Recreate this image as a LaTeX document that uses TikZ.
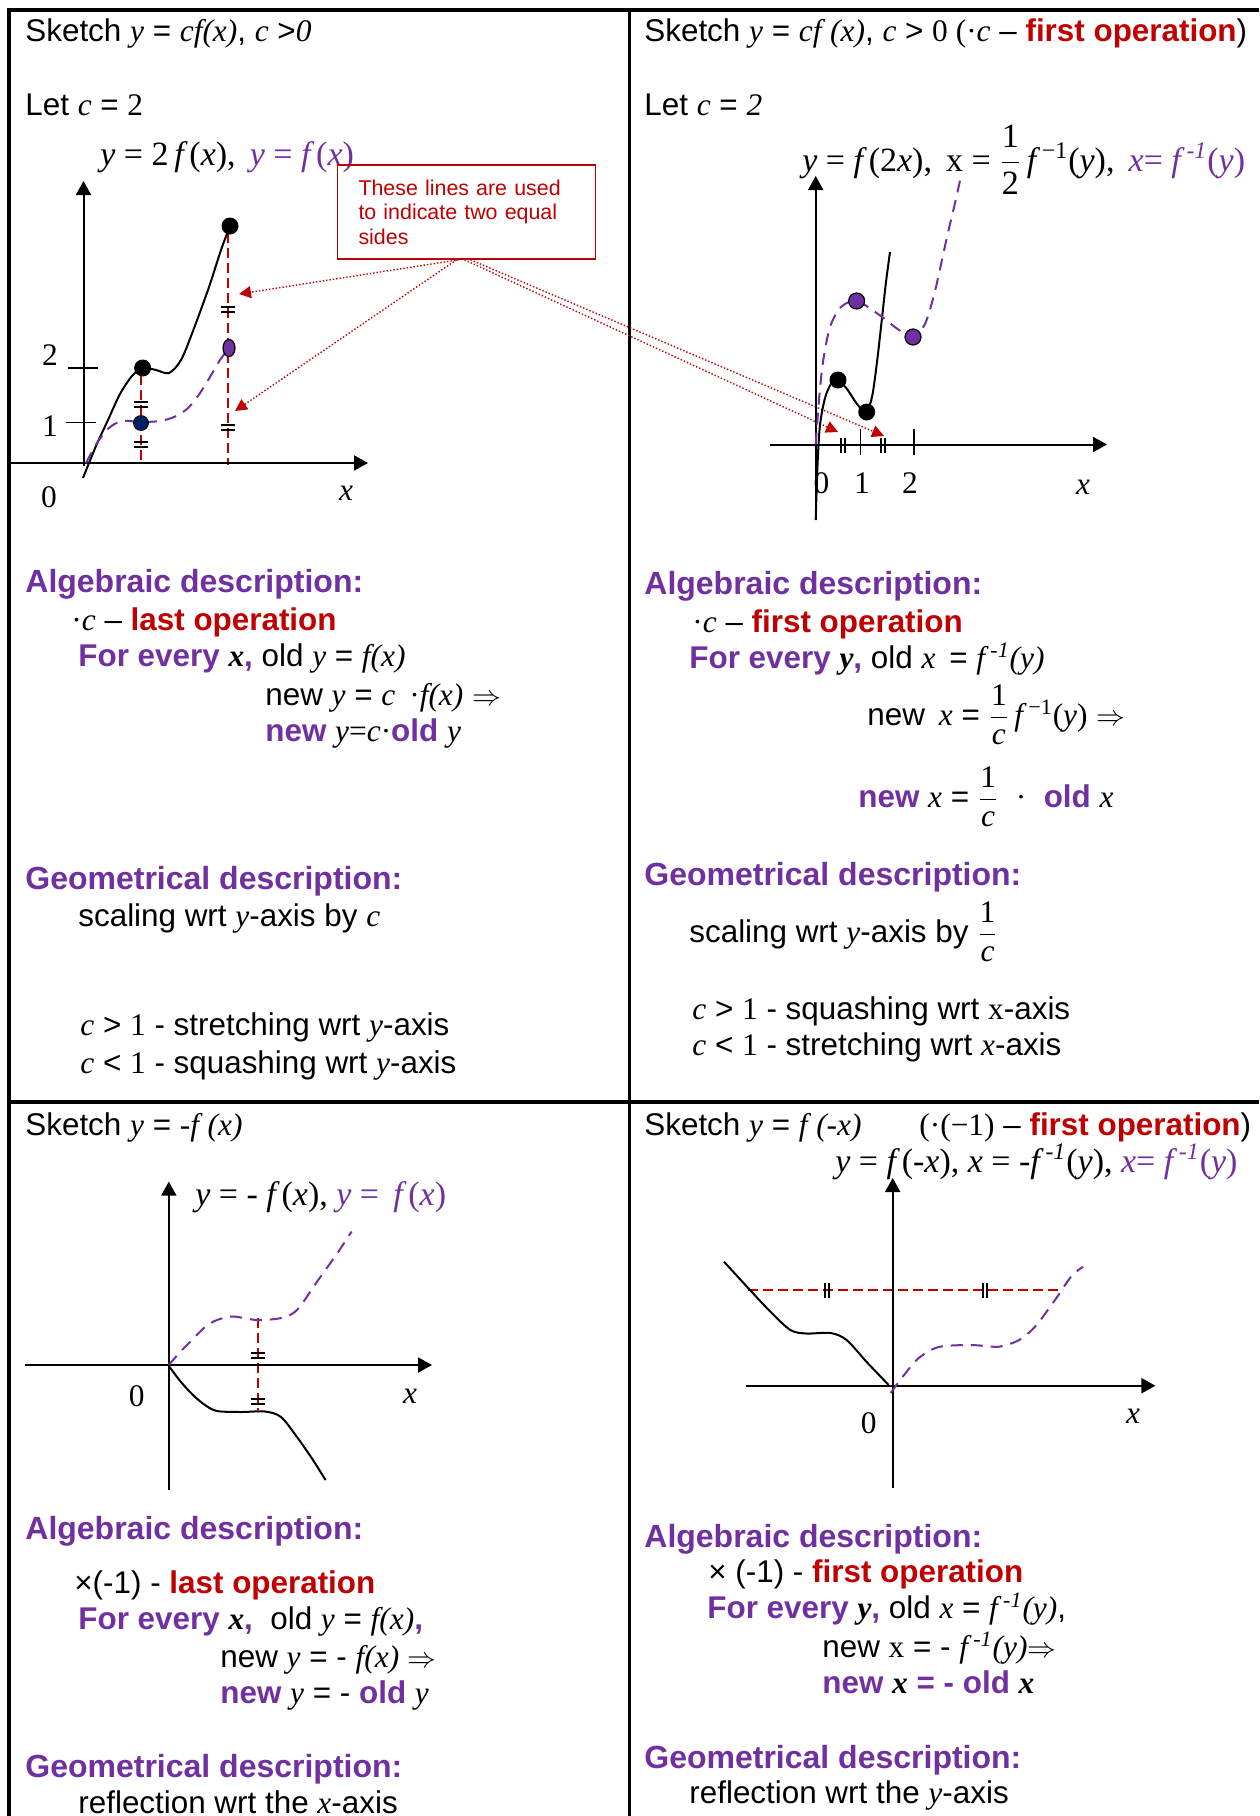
\documentclass[tikz,border=0pt]{standalone}
\usepackage{fontspec}
\setmainfont{Liberation Sans}
\newfontfamily\tm{Liberation Serif}
\usetikzlibrary{arrows.meta,shapes.geometric}
\definecolor{pur}{HTML}{7030A0}\definecolor{dred}{HTML}{C00000}\definecolor{nav}{HTML}{002060}
\newcommand\iv[1]{{\tm\itshape #1}}
\newcommand\rv[1]{{\tm #1}}
\newcommand\pb[1]{\textcolor{pur}{\bfseries #1}}
\newcommand\rb[1]{\textcolor{dred}{\bfseries #1}}
\newcommand\fr[2]{\ensuremath{\displaystyle\frac{\hbox{#1}}{\hbox{#2}}}}
\newcommand\inv{\,\textsuperscript{\iv{-1}}}
\tikzset{tx/.style={anchor=base west,inner sep=0pt,font=\fontsize{15.7}{18}\selectfont},
 gl/.style={tx,font=\fontsize{17}{20}\selectfont\tm},
 hd/.style={tx,font=\fontsize{16}{19}\selectfont\bfseries,text=pur},
 lb/.style={inner sep=0pt,font=\fontsize{15.7}{18}\selectfont\tm},
 ca/.style={draw=dred,line width=0.8pt,text=dred,font=\fontsize{10.7}{12.3}\selectfont,align=left,text width=108pt,inner xsep=10.5pt,minimum height=47pt},
 dt/.style={circle,fill=black,inner sep=0pt,minimum size=8.5pt},
 pdt/.style={dt,draw=black,fill=pur,minimum size=8pt,line width=0.6pt},
 pe/.style={ellipse,draw=black,fill=pur,inner sep=0pt,minimum width=6pt,minimum height=8.5pt,line width=0.6pt},
 cv/.style={line width=1pt},pd/.style={pur,line width=1pt,dash pattern=on 6pt off 4pt},
 rd/.style={dred,line width=1pt,dash pattern=on 5pt off 2.5pt},
 ax/.style={line width=1pt,-{Triangle[length=7pt,width=7.5pt]}},tk/.style={line width=0.8pt},
 ar/.style={dred,line width=0.7pt,densely dotted,-{Triangle[length=6pt,width=6pt]}},
 eqm/.pic={\draw[line width=1pt] (-7,-2.5)--(7,-2.5) (-7,2.5)--(7,2.5);},
 eqv/.pic={\draw[line width=1pt] (-2,-7.5)--(-2,7.5) (2,-7.5)--(2,7.5);}}
\begin{document}
\begin{tikzpicture}[x=0.5pt,y=-0.5pt]
\useasboundingbox (0,0) rectangle (1259,1816);\fill[white] (0,0) rectangle (1259,1816);
\draw[line width=2pt] (9,1816)--(9,10)--(1259,10);\draw[line width=1.5pt] (629,10)--(629,1816);\draw[line width=2pt] (9,1102)--(1259,1102);
\node[tx](tlT) at (25,41){Sketch \iv{y} = \iv{cf}\iv{(x)}, \iv{c} >\iv{0}};
\node[tx](tlL) at (25,115){Let \iv{c} = \rv{2}};
\node[gl](tlG) at (100,165){\iv{y} = 2\,\iv{f}\,(\iv{x}),\, \textcolor{pur}{\iv{y} = \iv{f}\,(\iv{x})}};
\node[ca](note) at (466.5,212){These lines are used\\to indicate two equal\\sides};
\draw[rd] (140.6,375)--(140.6,463);\draw[rd] (228,233)--(228,465);
\draw[ax] (10,463)--(368,463);\draw[ax] (83.5,466)--(83.5,181);
\draw[tk] (68,368)--(98,368) (66,422.5)--(96,422.5);
\node[lb](l2) at (50,355){2};\node[lb](l1) at (50,426){1};\node[lb](l0) at (49,497){0};\node[lb](lx) at (346,493){\itshape x};
\draw[cv] plot[smooth] coordinates {(83,478) (96,446) (108,420) (120,394) (132,376) (143,368) (156,370) (169,373) (181,360) (193,331) (209,287) (221,250) (230,226)};
\draw[pd] plot[smooth] coordinates {(86,463) (97,443) (109,428) (122,421) (141,422) (160,421) (174,417) (187,409) (198,396) (210,377) (220,360) (229,348)};
\node[dt](a1) at (142.6,368){};\node[dt](a2) at (230,226){};\node[dt,fill=nav,draw=black,minimum size=7.5pt](a3) at (141,423){};\node[pe](a4) at (229,348){};
\pic at (140.6,404){eqm};\pic at (140.6,444.5){eqm};\pic at (228,309){eqm};\pic at (228,427.6){eqm};
\coordinate (e1) at (239,294);\coordinate (e2) at (235,411);\coordinate (e3) at (838,432);\coordinate (e4) at (884,436);
\draw[ar] ([xshift=-4pt]note.south)--(e1);\draw[ar] ([xshift=-5pt]note.south)--(e2);\draw[ar] ([xshift=-1pt]note.south)--(e3);\draw[ar] ([xshift=2pt]note.south)--(e4);
\node[hd](tlA) at (25,592){Algebraic description:};
\node[tx](tl1) at (71,630){\rv{·}\iv{c} – \rb{last operation}};
\node[tx](tl2) at (78,666){\pb{For every} \iv{\bfseries x}\pb{,} old \iv{y} = \iv{f(x)}};
\node[tx](tl3) at (265,705){new \iv{y} = \iv{c} \,\rv{·}\iv{f(x)} $\Rightarrow$};
\node[tx](tl4) at (265,741){\pb{new} \iv{y}\rv{=}\iv{c}\rv{·}\pb{old} \iv{y}};
\node[hd](tlB) at (25,889){Geometrical description:};
\node[tx](tl5) at (78,926){scaling wrt \iv{y}-axis by \iv{c}};
\node[tx](tl6) at (80,1035){\iv{c} > \rv{1} - stretching wrt \iv{y}-axis};
\node[tx](tl7) at (80,1073){\iv{c} < \rv{1} - squashing wrt \iv{y}-axis};
\node[tx](trT) at (644,41){Sketch \iv{y} = \iv{cf} \iv{(x)}, \iv{c} > \rv{0 (·}\iv{c} – \rb{first operation})};
\node[tx](trL) at (644,115){Let \iv{c} = \iv{2}};
\node[gl](trG) at (802,171){\iv{y} = \iv{f}\,(2\iv{x}),\, x = \fr{1}{2}\,\iv{f}\,\textsuperscript{−1}(\iv{y}),\, \textcolor{pur}{\iv{x}= \iv{f}\inv(\iv{y})}};
\draw[ax] (770,444.5)--(1107,444.5);\draw[ax] (815.7,520)--(815.7,176);
\draw[tk] (860.6,429)--(860.6,455) (914,429)--(914,455);
\pic at (843.4,445.5){eqv};\pic at (883,445.5){eqv};
\node[lb](m0) at (821.5,483){0};\node[lb](m1) at (862,483){1};\node[lb](m2) at (910,483){2};\node[lb](mx) at (1083,487){\itshape x};
\draw[cv] plot[smooth] coordinates {(815.7,520) (817.5,465) (820,425) (825,398) (831,384) (838,380) (847,389) (857,404) (866,412) (872,397) (877,362) (882,318) (886,282) (890,252)};
\draw[pd] plot[smooth] coordinates {(815.7,444.5) (819,400) (823,362) (830,327) (841,307) (856.6,301) (878,314) (899,330) (913,337) (925,324) (935,291) (947,237) (955,203) (961,176)};
\node[dt](b1) at (838,380){};\node[dt](b2) at (866.7,412){};\node[pdt](b3) at (856.6,301){};\node[pdt](b4) at (913,337){};
\node[hd](trA) at (644,594){Algebraic description:};
\node[tx](tr1) at (692,632){\rv{·}\iv{c} – \rb{first operation}};
\node[tx](tr2) at (689,668){\pb{For every} \iv{\bfseries y}\pb{,} old \iv{x}\, = \iv{f}\inv\iv{(y)}};
\node[tx](tr3) at (867,725){new\, \iv{x} = \fr{\rv{1}}{\iv{c}}\,\iv{f}\,\textsuperscript{\rv{−1}}\rv{(}\iv{y}\rv{)} $\Rightarrow$};
\node[tx](tr4) at (858,807){\pb{new} \iv{x} = \fr{\rv{1}}{\iv{c}}\; \rv{·}\; \pb{old} \iv{x}};
\node[hd](trB) at (644,885){Geometrical description:};
\node[tx](tr5) at (689,942){scaling wrt \iv{y}-axis by \fr{\rv{1}}{\iv{c}}};
\node[tx](tr6) at (692,1019){\iv{c} > \rv{1} - squashing wrt \rv{x}-axis};
\node[tx](tr7) at (692,1055){\iv{c} < \rv{1} - stretching wrt \iv{x}-axis};
\node[tx](blT) at (25,1135){Sketch \iv{y} = \iv{-f} \iv{(x)}};
\node[gl](blG) at (195,1205){\iv{y} = - \iv{f}\,(\iv{x}), \textcolor{pur}{\iv{y} = \,\iv{f}\,(\iv{x})}};
\draw[rd] (258,1318)--(258,1410);
\draw[ax] (25,1365)--(432,1365);\draw[ax] (168.8,1490)--(168.8,1181.6);
\node[lb](n0) at (136.6,1396.6){0};\node[lb](nx) at (410,1396.6){\itshape x};
\draw[cv] plot[smooth] coordinates {(168.8,1366) (181,1382) (193,1395) (205,1405) (217,1411) (241,1412) (265,1411.5) (281,1417) (297,1437) (313,1460) (325.5,1480)};
\draw[pd] plot[smooth] coordinates {(168.8,1365) (181,1351) (193,1339) (205,1327) (217,1320) (233,1316.5) (257,1320) (281,1318) (297,1310) (317.5,1281) (337.5,1253) (351.6,1231.5)};
\pic at (258,1355){eqm};\pic at (258,1401.5){eqm};
\node[hd](blA) at (25,1539){Algebraic description:};
\node[tx](bl1) at (74,1593){×(-1) - \rb{last operation}};
\node[tx](bl2) at (78,1629){\pb{For every} \iv{\bfseries x}\pb{,}\; old \iv{y} = \iv{f(x)}\pb{,}};
\node[tx](bl3) at (220,1667){new \iv{y} = - \iv{f(x)} $\Rightarrow$};
\node[tx](bl4) at (220,1703){\pb{new} \iv{y} = - \pb{old} \iv{y}};
\node[hd](blB) at (25,1777){Geometrical description:};
\node[tx](bl5) at (78,1813){reflection wrt the \iv{x}-axis};
\node[tx](brT) at (644,1135){Sketch \iv{y} = \iv{f} \iv{(-x)}};
\node[tx](brO) at (919,1135){\rv{(·(−1)} – \rb{first operation})};
\node[gl](brG) at (835,1172){\iv{y} = \iv{f}\,(-\iv{x}), \iv{x} = -\iv{f}\inv(\iv{y}), \textcolor{pur}{\iv{x}= \iv{f}\inv(\iv{y})}};
\draw[rd] (748,1290)--(1063,1290);
\draw[ax] (746,1385.7)--(1155.4,1385.7);\draw[ax] (892.7,1488)--(892.7,1178);
\node[lb](o0) at (868.6,1423){0};\node[lb](ox) at (1133,1416.7){\itshape x};
\draw[cv] plot[smooth] coordinates {(724,1261.7) (750,1290) (770.4,1311.7) (790.4,1330) (806.5,1333.5) (830.6,1333) (846.6,1340) (866.7,1362) (888.7,1385)};
\draw[pd] plot[smooth] coordinates {(890.7,1393) (902.7,1376.7) (918.8,1358) (938.8,1347) (971,1345) (999,1346.7) (1019,1340) (1035,1326.7) (1055,1300) (1071,1276.7) (1083,1266.7)};
\pic at (827,1290.5){eqv};\pic at (985,1290.5){eqv};
\node[hd](brA) at (644,1547){Algebraic description:};
\node[tx](br1) at (708,1582){× (-1) - \rb{first operation}};
\node[tx](br2) at (707,1618){\pb{For every} \iv{\bfseries y}\pb{,} old \iv{x} = \iv{f}\inv\iv{(y)},};
\node[tx](br3) at (822,1657){new \rv{x} = - \iv{f}\inv\iv{(y)}$\Rightarrow$};
\node[tx](br4) at (822,1693){\pb{new} \iv{\bfseries x} \pb{= - old} \iv{\bfseries x}};
\node[hd](brB) at (644,1768){Geometrical description:};
\node[tx](br5) at (689,1803){reflection wrt the \iv{y}-axis};
\end{tikzpicture}
\end{document}
